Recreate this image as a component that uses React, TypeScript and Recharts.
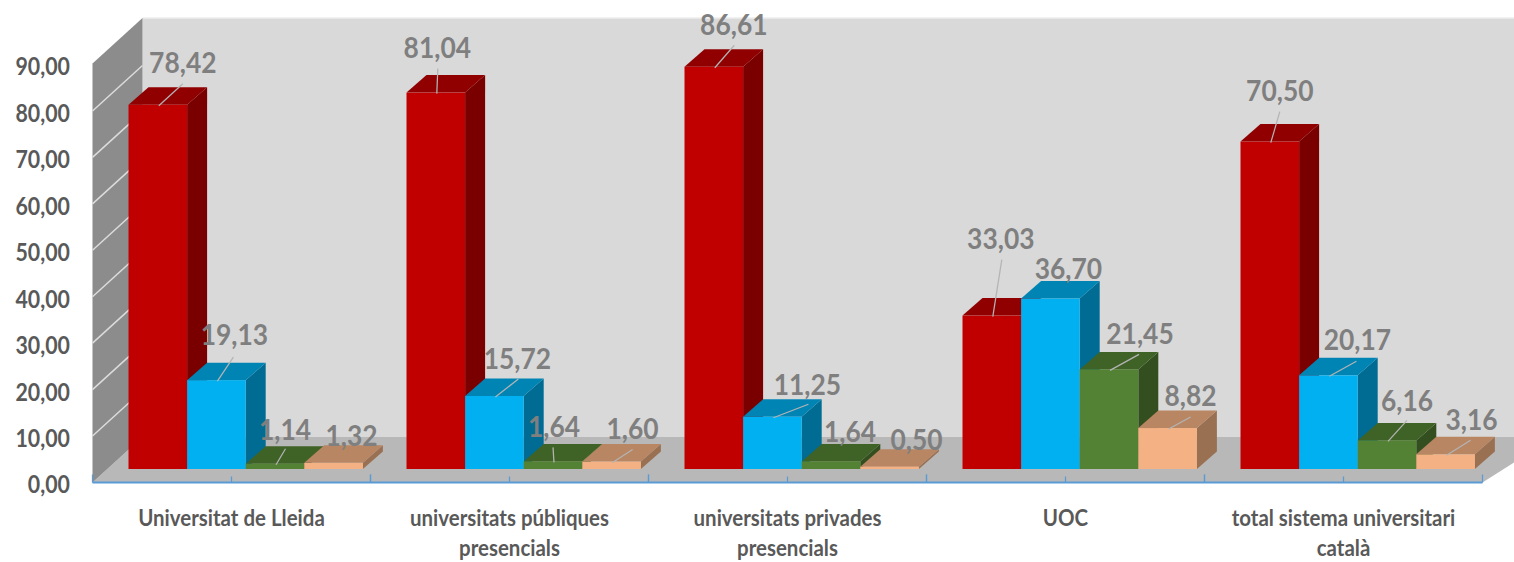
// App.tsx
import React from 'react';
import { BarChart, Bar, XAxis, YAxis, LabelList, Customized } from 'recharts';

const categories = [
  'Universitat de Lleida',
  'universitats públiques\npresencials',
  'universitats privades\npresencials',
  'UOC',
  'total sistema universitari\ncatalà',
];
const redValues = [78.42, 81.04, 86.61, 33.03, 70.5];
const blueValues = [19.13, 15.72, 11.25, 36.7, 20.17];
const greenValues = [1.14, 1.64, 1.64, 21.45, 6.16];
const orangeValues = [1.32, 1.6, 0.5, 8.82, 3.16];
const yTicks = [0, 10, 20, 30, 40, 50, 60, 70, 80, 90];

const data = categories.map((name, i) => ({
  name,
  red: redValues[i],
  blue: blueValues[i],
  green: greenValues[i],
  orange: orangeValues[i],
}));

const W = 1514;
const H = 562;
const PLOT_LEFT = 92.5;
const PLOT_RIGHT = 1482.5;
const PLOT_TOP = 64.5;
const PLOT_BOTTOM = 482.5;
const BAND = (PLOT_RIGHT - PLOT_LEFT) / categories.length;

// the bars stand on the floor, a little behind the front edge
const FRONT_DX = 14;
const FRONT_DY = -13.5;
const BAR_DX = 20;
const BAR_DY = -17.5;
const WALL_DX = 50;
const WALL_DY = -45.5;

const FONT = 'Lato, Carlito, sans-serif';

const pts = (list: number[][]) => list.map((p) => p.join(',')).join(' ');

// label placement per category: [label dx, label dy, leader end dx, leader end dy] from the bar's top centre
type Place = [number, number, number, number] | [number, number];
const redPlaces: Place[] = [[25, -43, 25, -21], [1.5, -46, 2, -24], [20, -43, 20.5, -21.5], [9, -78, 10, -56], [10, -52, 10, -30]];
const bluePlaces: Place[] = [[18, -46, 17, -23], [23, -38, 24, -17], [35, -33, 36, -12.5], [18, -31], [29, -36, 28, -14]];
const greenPlaces: Place[] = [[10, -35, 10.5, -15], [1, -35, 0, -14], [19, -30], [31, -36, 30, -15], [20, -40, 20, -20]];
const orangePlaces: Place[] = [[18, -28], [21, -34, 21, -12], [27, -28], [23, -33, 23, -11], [26, -35, 25, -14]];

const comma = (v: number) => v.toFixed(2).replace('.', ',');

const Walls = () => {
  const backX = PLOT_LEFT + WALL_DX;
  const backBottom = PLOT_BOTTOM + WALL_DY;
  const backTop = PLOT_TOP + WALL_DY - 1;
  const step = (PLOT_BOTTOM - PLOT_TOP) / (yTicks.length - 1);
  return (
    <g>
      <rect x={backX} y={backTop} width={W - backX} height={backBottom - backTop} fill="#d9d9d9" />
      <line x1={backX} y1={backTop} x2={W} y2={backTop} stroke="#ececec" strokeWidth={1.5} />
      <polygon
        points={pts([[PLOT_LEFT, PLOT_BOTTOM], [backX, backBottom], [W + 40, backBottom], [PLOT_RIGHT, PLOT_BOTTOM]])}
        fill="#b8b8b8"
      />
      <polygon
        points={pts([[PLOT_LEFT, PLOT_TOP - 1], [backX, backTop], [backX, backBottom], [PLOT_LEFT, PLOT_BOTTOM]])}
        fill="#8c8c8c"
      />
      <line x1={PLOT_LEFT} y1={PLOT_TOP - 1} x2={PLOT_LEFT} y2={PLOT_BOTTOM} stroke="#c4c4c4" strokeWidth={1} />
      {yTicks.slice(1, -1).map((t, i) => {
        const y = PLOT_BOTTOM - (i + 1) * step;
        return <line key={t} x1={PLOT_LEFT} y1={y} x2={backX} y2={y + WALL_DY} stroke="#dcdcdc" strokeWidth={1.5} />;
      })}
    </g>
  );
};

const Box3D = (props: any) => {
  const { x, y, width, height, front, top, side } = props;
  const l = x + FRONT_DX;
  const r = l + width;
  const t = y + FRONT_DY;
  const b = t + height;
  return (
    <g>
      <polygon points={pts([[r, t], [r + BAR_DX, t + BAR_DY], [r + BAR_DX, b + BAR_DY], [r, b]])} fill={side} />
      <polygon points={pts([[l, t], [l + BAR_DX, t + BAR_DY], [r + BAR_DX, t + BAR_DY], [r, t]])} fill={top} />
      <rect x={l} y={t} width={width} height={height} fill={front} />
    </g>
  );
};

const makeLabel = (places: Place[]) => (props: any) => {
  const { x, y, width, index, value } = props;
  const cx = x + width / 2 + FRONT_DX;
  const top = y + FRONT_DY;
  const place = places[index];
  const leader = place.length === 4;
  return (
    <g>
      {leader && (
        <line x1={cx + 1} y1={top + 1} x2={cx + place[2]!} y2={top + place[3]!} stroke="#b4b4b4" strokeWidth={1.25} />
      )}
      <text
        transform={`translate(${cx + place[0]} ${top + place[1]}) scale(0.91 1)`}
        textAnchor="middle"
        dominantBaseline="central"
        fontFamily={FONT}
        fontWeight={700}
        fontSize={29}
        fill="#7f7f7f"
      >
        {comma(value)}
      </text>
    </g>
  );
};

const CategoryTick = (props: any) => {
  const { x, payload } = props;
  const lines = String(payload.value).split('\n');
  const axisY = PLOT_BOTTOM;
  return (
    <g>
      <line x1={x} y1={axisY} x2={x} y2={axisY - 6} stroke="#5b9bd5" strokeWidth={1.25} />
      <line x1={x - BAND / 2} y1={axisY} x2={x - BAND / 2} y2={axisY - 8} stroke="#5b9bd5" strokeWidth={1.25} />
      <line x1={x + BAND / 2} y1={axisY} x2={x + BAND / 2} y2={axisY - 8} stroke="#5b9bd5" strokeWidth={1.25} />
      {lines.map((line, i) => (
        <text
          key={line}
          transform={`translate(${x} ${517.5 + i * 30.5}) scale(0.91 1)`}
          textAnchor="middle"
          dominantBaseline="central"
          fontFamily={FONT}
          fontWeight={700}
          fontSize={22.5}
          fill="#595959"
        >
          {line}
        </text>
      ))}
    </g>
  );
};

const ValueTick = (props: any) => {
  const { y, payload } = props;
  return (
    <text
      transform={`translate(70 ${y + 2}) scale(0.89 1)`}
      textAnchor="end"
      dominantBaseline="central"
      fontFamily={FONT}
      fontWeight={700}
      fontSize={24}
      fill="#595959"
    >
      {comma(payload.value)}
    </text>
  );
};

const series = [
  { key: 'red', front: '#c00000', top: '#900000', side: '#7a0000', places: redPlaces },
  { key: 'blue', front: '#00b0f0', top: '#0084b4', side: '#006c94', places: bluePlaces },
  { key: 'green', front: '#548235', top: '#3f6226', side: '#334f1f', places: greenPlaces },
  { key: 'orange', front: '#f4b183', top: '#b88663', side: '#9a7052', places: orangePlaces },
];

export default function App() {
  return (
    <div style={{ position: 'absolute', left: 0, top: 0, width: W, height: H, overflow: 'hidden', background: '#fff' }}>
      <BarChart
        width={W}
        height={H}
        data={data}
        barGap={0}
        margin={{ top: PLOT_TOP, right: W - PLOT_RIGHT, bottom: 0, left: 0 }}
      >
        <Customized component={Walls} />
        <XAxis
          dataKey="name"
          height={H - PLOT_BOTTOM}
          interval={0}
          tickLine={false}
          axisLine={{ stroke: '#5b9bd5', strokeWidth: 2 }}
          tick={<CategoryTick />}
        />
        <YAxis
          width={PLOT_LEFT}
          domain={[0, 90]}
          ticks={yTicks}
          interval={0}
          axisLine={false}
          tickLine={false}
          tick={<ValueTick />}
        />
        {series.map((s) => (
          <Bar
            key={s.key}
            dataKey={s.key}
            barSize={58.6}
            isAnimationActive={false}
            shape={(p: any) => <Box3D {...p} front={s.front} top={s.top} side={s.side} />}
          >
            <LabelList dataKey={s.key} content={makeLabel(s.places)} />
          </Bar>
        ))}
      </BarChart>
    </div>
  );
}
